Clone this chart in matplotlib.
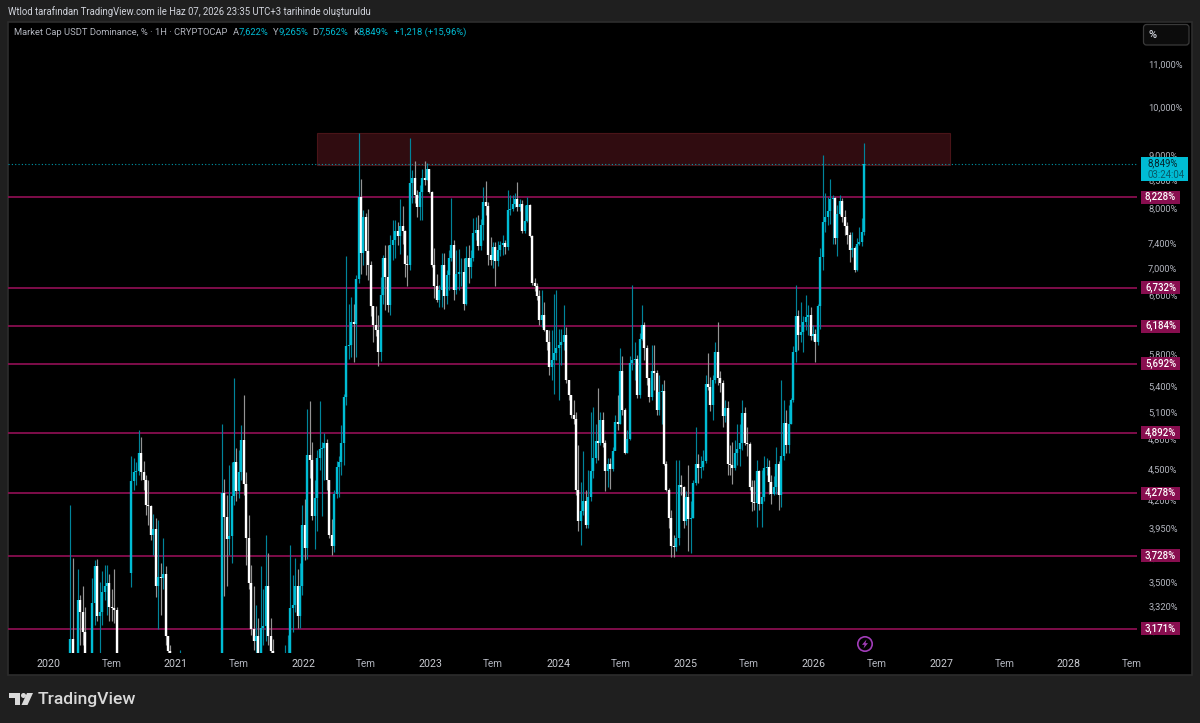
import matplotlib
matplotlib.use('Agg')
import matplotlib.pyplot as plt
from matplotlib.patches import Rectangle, Circle, Polygon, FancyBboxPatch
from matplotlib.transforms import ScaledTranslation

# Weekly closes, highs and lows of USDT dominance (%)
closes = [
    3.10, 2.90, 2.90, 3.38, 3.29, 3.15, 2.90, 2.90, 2.90, 3.36,
    3.64, 3.26, 3.29, 3.44, 3.49, 3.51, 3.33, 3.32, 3.31, 2.90,
    2.95, 2.90, 2.90, 2.90, 2.90, 4.40, 4.48, 4.49, 4.68, 4.48,
    4.41, 4.17, 4.16, 3.90, 3.95, 3.49, 3.56, 3.55, 3.58, 3.12,
    3.02, 2.90, 2.90, 2.90, 2.90, 2.95, 2.90, 2.90, 2.90, 2.90,
    2.90, 2.90, 2.90, 2.90, 2.90, 2.90, 2.90, 2.90, 2.90, 2.90,
    2.90, 2.90, 4.28, 4.06, 3.87, 3.89, 4.25, 4.58, 4.30, 4.48,
    4.81, 4.37, 3.88, 3.51, 3.17, 3.09, 3.12, 2.90, 3.18, 3.19,
    3.49, 3.12, 3.02, 2.85, 2.85, 2.85, 2.85, 2.85, 2.90, 2.95,
    3.32, 3.34, 3.49, 3.26, 3.49, 3.99, 3.79, 4.66, 4.60, 4.07,
    4.23, 4.62, 4.72, 4.73, 4.78, 4.41, 3.90, 3.81, 4.27, 4.53,
    4.58, 4.78, 5.29, 5.92, 5.93, 6.25, 6.22, 6.87, 8.23, 7.27,
    7.88, 7.30, 7.08, 6.47, 6.20, 6.14, 5.84, 6.63, 7.20, 6.90,
    6.49, 7.40, 7.48, 7.63, 7.55, 7.72, 7.63, 7.10, 7.08, 8.48,
    8.59, 8.26, 8.05, 8.32, 8.59, 8.54, 8.75, 8.32, 7.08, 6.76,
    6.56, 6.70, 7.08, 6.61, 6.92, 7.20, 7.40, 6.70, 6.95, 6.97,
    6.98, 6.50, 7.20, 7.05, 7.20, 7.60, 7.65, 7.38, 7.74, 8.14,
    8.07, 7.24, 7.16, 7.37, 7.14, 7.32, 7.40, 7.43, 7.37, 8.00,
    8.02, 8.11, 8.20, 8.05, 8.11, 7.63, 7.80, 8.08, 7.55, 6.80,
    6.76, 6.61, 6.27, 6.34, 6.14, 5.97, 5.65, 5.74, 5.83, 5.90,
    5.94, 5.98, 6.07, 5.49, 5.31, 5.09, 5.04, 4.31, 4.02, 4.11,
    4.21, 3.99, 4.24, 4.49, 4.63, 4.80, 4.78, 5.03, 4.78, 4.49,
    4.56, 4.51, 4.70, 5.01, 4.99, 5.60, 5.14, 4.68, 4.82, 5.70,
    5.74, 5.75, 5.31, 6.02, 6.20, 5.90, 5.52, 5.29, 5.60, 5.58,
    5.14, 5.35, 5.36, 4.56, 4.31, 4.05, 3.81, 3.80, 3.88, 4.36,
    4.34, 4.02, 4.24, 4.04, 4.05, 4.38, 4.56, 4.52, 4.53, 4.59,
    5.44, 5.41, 5.20, 5.49, 5.85, 5.52, 5.46, 5.07, 5.16, 4.56,
    4.55, 4.52, 4.68, 4.72, 4.78, 5.11, 4.78, 4.77, 4.34, 4.20,
    4.19, 4.49, 4.18, 4.24, 4.52, 4.53, 4.39, 4.27, 4.34, 4.56,
    4.26, 4.65, 5.00, 4.76, 4.98, 5.26, 5.84, 6.33, 6.07, 6.11,
    6.25, 6.32, 6.34, 6.05, 6.08, 5.97, 6.47, 7.21, 7.79, 7.87,
    7.98, 8.20, 8.21, 7.52, 7.93, 8.16, 7.88, 7.72, 7.57, 7.32,
    7.35, 7.00, 7.42, 7.45, 7.622, 8.849,
]
highs = [
    4.17, 3.71, 2.95, 3.62, 3.42, 3.49, 3.33, 2.95, 2.95, 3.55,
    3.69, 3.70, 3.52, 3.60, 3.65, 3.65, 3.58, 3.46, 3.62, 3.33,
    2.98, 2.95, 2.95, 2.95, 2.95, 4.65, 4.63, 4.58, 4.92, 4.84,
    4.59, 4.45, 4.41, 4.17, 4.09, 4.05, 4.03, 3.67, 3.88, 3.64,
    3.12, 3.06, 2.95, 2.95, 2.95, 3.03, 2.95, 2.95, 2.95, 2.95,
    2.95, 2.95, 2.95, 2.95, 2.95, 2.95, 2.95, 2.95, 2.95, 2.95,
    2.95, 2.95, 4.98, 4.42, 4.26, 4.55, 4.58, 5.52, 4.73, 4.71,
    4.97, 5.31, 4.48, 4.08, 3.65, 3.49, 3.34, 3.25, 3.64, 3.46,
    3.90, 3.75, 3.25, 3.10, 2.90, 2.90, 2.90, 2.90, 3.06, 3.13,
    3.82, 3.57, 3.71, 3.62, 3.67, 4.17, 4.22, 5.15, 5.25, 4.79,
    4.41, 4.71, 5.25, 4.79, 4.89, 4.82, 4.41, 4.04, 4.31, 4.59,
    4.65, 4.97, 5.33, 7.23, 6.50, 6.60, 6.50, 6.92, 9.48, 8.56,
    8.00, 7.95, 8.02, 7.14, 6.47, 6.47, 6.34, 6.90, 7.24, 7.40,
    7.40, 7.57, 7.82, 7.83, 7.79, 8.20, 8.06, 7.65, 7.24, 9.38,
    8.73, 8.90, 8.35, 8.45, 8.76, 8.90, 8.88, 8.76, 8.34, 7.35,
    6.95, 6.77, 7.27, 7.27, 7.00, 7.32, 8.21, 7.49, 7.32, 7.34,
    7.20, 7.19, 7.38, 7.40, 7.32, 7.85, 7.88, 7.90, 7.84, 8.41,
    8.52, 8.14, 7.54, 7.45, 7.45, 7.46, 7.46, 7.57, 7.49, 8.36,
    8.26, 8.26, 8.30, 8.50, 8.20, 8.17, 8.08, 8.23, 8.10, 7.57,
    6.88, 6.80, 6.70, 6.70, 6.53, 6.14, 6.14, 6.14, 6.65, 6.70,
    6.15, 6.15, 6.49, 6.18, 5.50, 5.32, 5.26, 5.12, 4.76, 4.39,
    4.70, 4.31, 4.50, 5.12, 5.18, 4.98, 5.40, 5.12, 5.12, 4.81,
    4.63, 4.63, 4.74, 5.09, 5.31, 5.90, 5.79, 5.17, 4.92, 5.79,
    6.77, 5.97, 5.80, 6.10, 6.49, 6.24, 5.94, 5.50, 5.94, 5.94,
    5.62, 5.55, 5.44, 5.50, 4.59, 4.33, 4.12, 3.90, 4.60, 4.60,
    4.45, 4.35, 4.30, 4.55, 4.21, 4.41, 4.95, 4.67, 4.65, 4.71,
    5.55, 5.83, 5.53, 5.55, 5.97, 6.24, 5.60, 5.49, 5.26, 5.25,
    4.76, 4.79, 4.81, 4.98, 4.98, 5.26, 5.18, 4.95, 4.79, 4.41,
    4.41, 4.60, 4.50, 4.50, 4.65, 4.62, 4.60, 4.45, 4.44, 4.74,
    4.59, 5.50, 5.26, 5.14, 5.20, 5.28, 5.92, 6.77, 6.41, 6.53,
    6.33, 6.63, 6.48, 6.45, 6.20, 6.15, 6.50, 7.35, 9.03, 8.30,
    8.23, 8.56, 8.26, 8.23, 8.08, 8.26, 8.21, 8.00, 7.78, 7.62,
    7.62, 7.38, 7.52, 7.70, 7.85, 9.265,
]
lows = [
    2.90, 2.85, 2.85, 2.90, 3.06, 3.06, 2.85, 2.85, 2.85, 2.90,
    3.20, 3.23, 2.95, 3.20, 3.38, 3.27, 3.23, 3.23, 3.21, 2.85,
    2.90, 2.85, 2.85, 2.85, 2.85, 3.48, 4.31, 4.36, 4.45, 4.41,
    4.31, 4.08, 3.99, 3.86, 3.73, 3.40, 3.17, 3.27, 3.46, 3.06,
    2.85, 2.85, 2.85, 2.85, 2.85, 2.90, 2.85, 2.85, 2.85, 2.85,
    2.85, 2.85, 2.85, 2.85, 2.85, 2.85, 2.85, 2.85, 2.85, 2.85,
    2.85, 2.85, 2.90, 3.41, 3.49, 3.73, 3.67, 4.17, 4.21, 4.23,
    4.41, 4.26, 3.65, 3.46, 3.13, 3.03, 2.90, 2.85, 2.90, 3.06,
    3.09, 3.06, 2.85, 2.80, 2.80, 2.80, 2.80, 2.80, 2.80, 2.85,
    2.90, 3.15, 3.29, 3.18, 3.18, 3.42, 3.69, 3.70, 4.43, 4.03,
    3.78, 3.94, 4.50, 4.07, 4.41, 4.31, 3.88, 3.73, 3.76, 4.23,
    4.24, 4.45, 4.55, 5.20, 5.76, 5.78, 5.72, 5.78, 6.80, 6.95,
    7.08, 6.93, 6.85, 6.33, 5.98, 6.05, 5.67, 5.73, 6.50, 6.41,
    6.39, 6.34, 7.16, 7.20, 7.40, 7.26, 7.42, 6.90, 6.76, 7.00,
    8.12, 8.12, 7.87, 7.82, 7.82, 8.45, 8.54, 8.30, 7.05, 6.58,
    6.53, 6.46, 6.46, 6.42, 6.50, 6.70, 7.14, 6.56, 6.65, 6.70,
    6.76, 6.41, 6.49, 6.80, 6.88, 7.14, 7.48, 7.32, 7.32, 7.48,
    7.91, 7.08, 7.08, 7.03, 6.76, 7.07, 7.22, 7.24, 7.25, 7.32,
    7.90, 7.97, 8.05, 7.97, 7.97, 7.60, 7.60, 7.78, 7.53, 6.77,
    6.68, 6.56, 6.20, 6.17, 6.12, 5.87, 5.55, 5.50, 5.33, 5.74,
    5.26, 5.68, 5.87, 5.46, 5.26, 5.05, 4.98, 4.26, 3.94, 3.82,
    4.08, 3.96, 3.96, 4.21, 4.43, 4.57, 4.60, 4.76, 4.74, 4.30,
    4.34, 4.32, 4.49, 4.71, 4.92, 4.98, 5.09, 4.67, 4.68, 4.81,
    5.62, 5.49, 5.28, 5.28, 6.00, 5.74, 5.43, 5.23, 5.26, 5.37,
    5.09, 5.09, 4.98, 4.55, 4.30, 3.96, 3.72, 3.72, 3.77, 3.82,
    4.26, 3.96, 3.99, 3.77, 3.75, 4.05, 4.36, 4.38, 4.43, 4.50,
    4.57, 5.37, 5.13, 5.03, 5.46, 5.43, 5.35, 4.95, 5.01, 4.45,
    4.45, 4.37, 4.50, 4.55, 4.54, 4.71, 4.76, 4.65, 4.31, 4.11,
    4.12, 3.97, 4.12, 3.97, 4.21, 4.45, 4.27, 4.18, 4.26, 4.27,
    4.12, 4.15, 4.60, 4.68, 4.68, 4.98, 5.23, 5.72, 5.87, 5.97,
    5.84, 6.14, 6.07, 6.00, 6.00, 5.72, 5.94, 6.15, 7.00, 7.61,
    7.73, 7.76, 7.42, 7.41, 7.22, 7.91, 7.78, 7.57, 7.42, 7.13,
    7.21, 6.97, 6.99, 7.40, 7.38, 7.562,
]

# Opens follow the previous close, except at the first bar and at the one gap
first_open = 2.90
gap_opens = {25: 3.59}

# Support and resistance levels with their tags, and the red supply zone
levels = [8.228, 6.732, 6.184, 5.692, 4.892, 4.278, 3.728, 3.171]
zone_low = 8.84
zone_high = 9.47
zone_start = 101
zone_end = 360
last_price = 8.849
countdown = '03:24:04'

price_ticks = [11.0, 10.0, 9.0, 8.5, 8.0, 7.4, 7.0, 6.6, 6.2, 5.8, 5.4, 5.1,
               4.8, 4.5, 4.2, 3.95, 3.7, 3.5, 3.32, 3.15]
time_ticks = [-9.1, 17.1, 43.1, 69.0, 95.3, 121.0, 147.5, 173.0, 199.7, 225.4,
              251.9, 277.8, 304.2, 329.9, 356.4, 382.3, 408.6, 434.6]
time_labels = ['2020', 'Tem', '2021', 'Tem', '2022', 'Tem', '2023', 'Tem', '2024', 'Tem',
               '2025', 'Tem', '2026', 'Tem', '2027', 'Tem', '2028', 'Tem']

UP = '#00bcd4'
DOWN = '#ffffff'
UP_WICK = '#00849a'
DOWN_WICK = '#949494'
LEVEL = '#880e4f'
GREY = '#b2b5be'

plt.rcParams['font.family'] = ['Roboto', 'DejaVu Sans']

W, H = 1200, 723
fig = plt.figure(figsize=(W / 100, H / 100), dpi=100, facecolor='#1f1f1f')


def comma(v, digits=3):
    return f'{v:.{digits}f}'.replace('.', ',') + '%'


# Black pane behind everything, with a faint border
back = fig.add_axes([0, 0, 1, 1], zorder=0)
back.set_xlim(0, W)
back.set_ylim(H, 0)
back.axis('off')
back.add_patch(Rectangle((8, 22), 1184, 653, fc='#000000', ec='#2d2d2d', lw=1.2))

# Candle axes: log price scale, x counted in weeks from the first bar
ax = fig.add_axes([8 / W, 1 - 653 / H, 1129 / W, 631 / H], zorder=1)
ax.set_facecolor('none')
ax.set_yscale('log')
ax.set_ylim(3.007, 12.11)
ax.set_xlim(-25.5, 436.6)
for side in ax.spines.values():
    side.set_visible(False)

ax.yaxis.tick_right()
ax.set_yticks(price_ticks)
ax.set_yticklabels([comma(v) for v in price_ticks], fontsize=6.7, color=GREY)
ax.minorticks_off()
ax.tick_params(axis='y', length=0, pad=8)
ax.set_xticks(time_ticks)
ax.set_xticklabels(time_labels, fontsize=7.2, color=GREY)
ax.tick_params(axis='x', length=0, pad=4.5)
for lab in ax.get_xticklabels():
    if lab.get_text() != 'Tem':
        lab.set_fontsize(7.7)
        lab.set_color('#c9cbd1')
# Price labels sit a little above their level
for lab in ax.get_yticklabels():
    lab.set_transform(lab.get_transform() + ScaledTranslation(0, 1.2 / 72, fig.dpi_scale_trans))

# Red zone, level lines and the dotted last price line
ax.add_patch(Rectangle((zone_start, zone_low), zone_end - zone_start, zone_high - zone_low,
                       fc='#300c10', ec='#4a1418', lw=0.8, zorder=1))
for v in levels:
    ax.axhline(v, color=LEVEL, lw=1.3, zorder=2)
ax.axhline(last_price, color=UP, lw=0.8, ls=(0, (1, 2)), alpha=0.8, zorder=2)

# Candles: wicks first, bodies on top
xs = list(range(len(closes)))
opens = [first_open] + closes[:-1]
for i, v in gap_opens.items():
    opens[i] = v
body_colors = [UP if c >= o else DOWN for o, c in zip(opens, closes)]
wick_colors = [UP_WICK if c >= o else DOWN_WICK for o, c in zip(opens, closes)]
ax.vlines(xs, lows, highs, colors=wick_colors, lw=0.85, zorder=3)
ax.vlines(xs, opens, closes, colors=body_colors, lw=1.7, zorder=4)

fig.canvas.draw()

# Overlay in pixel coordinates for the header, tags and logo
top = fig.add_axes([0, 0, 1, 1], zorder=2)
top.set_xlim(0, W)
top.set_ylim(H, 0)
top.axis('off')
top.patch.set_alpha(0)


def pixel_y(v):
    return H - ax.transData.transform((0, v))[1]


for v in levels:
    y = pixel_y(v)
    top.add_patch(Rectangle((1141, y - 6.5), 39, 13, fc=LEVEL, ec='none'))
    top.text(1160.5, y, comma(v), color='white', fontsize=6.9, weight='medium',
             ha='center', va='center')

# Last price tag with the countdown under it
y = pixel_y(last_price)
top.add_patch(Rectangle((1141, y - 7), 47, 24, fc=UP, ec='none'))
top.text(1147.5, y - 0.5, comma(last_price), color='#06232a', fontsize=6.9, va='center')
top.text(1147.5, y + 11, countdown, color='#075a68', fontsize=6.9, va='center')

# Percent scale button
top.add_patch(FancyBboxPatch((1143.5, 24.5), 45.5, 20.5, boxstyle='round,pad=0,rounding_size=3',
                             fc='#0c0c0c', ec='#3a3a3a', lw=0.9))
top.text(1153, 35, '%', color='#d1d4dc', fontsize=8, weight='medium', ha='center', va='center')

# Header lines
top.text(8, 11.5, 'Wtlod tarafından TradingView.com ile Haz 07, 2026 23:35 UTC+3 tarihinde oluşturuldu',
         color='#d1d4dc', fontsize=6.85, va='center')
top.text(14, 32.5, 'Market Cap USDT Dominance, % · 1H · CRYPTOCAP', color=GREY, fontsize=6.75, va='center')
for px, label, value in [(232.5, 'A', 7.622), (272.5, 'Y', 9.265), (312.5, 'D', 7.562), (353, 'K', 8.849)]:
    top.text(px, 32.5, label, color=GREY, fontsize=6.75, va='center')
    top.text(px + 5.7, 32.5, comma(value), color=UP, fontsize=6.75, va='center')
top.text(394, 32.5, '+1,218 (+15,96%)', color=UP, fontsize=6.75, va='center')

# Lightning badge above the time axis
top.add_patch(Circle((865, 644), 7.2, fc='none', ec='#a13cb8', lw=1.2))
top.add_patch(Polygon([(866.5, 639.5), (862, 644.8), (864.6, 644.8), (863.5, 648.5),
                       (868, 643.2), (865.4, 643.2)], fc='#a13cb8', ec='none'))

# TradingView logo and wordmark
logo = '#d9d9d9'
top.add_patch(Polygon([(9, 693), (20, 693), (20, 705), (14.5, 705), (14.5, 698), (9, 698)], fc=logo, ec='none'))
top.add_patch(Circle((23.5, 695.5), 2.5, fc=logo, ec='none'))
top.add_patch(Polygon([(27, 693), (33, 693), (27.5, 705), (21.5, 705)], fc=logo, ec='none'))
top.text(38, 699.5, 'TradingView', color=logo, fontsize=12.6, weight='medium', va='center')

fig.savefig('out.png', dpi=100, facecolor=fig.get_facecolor())
